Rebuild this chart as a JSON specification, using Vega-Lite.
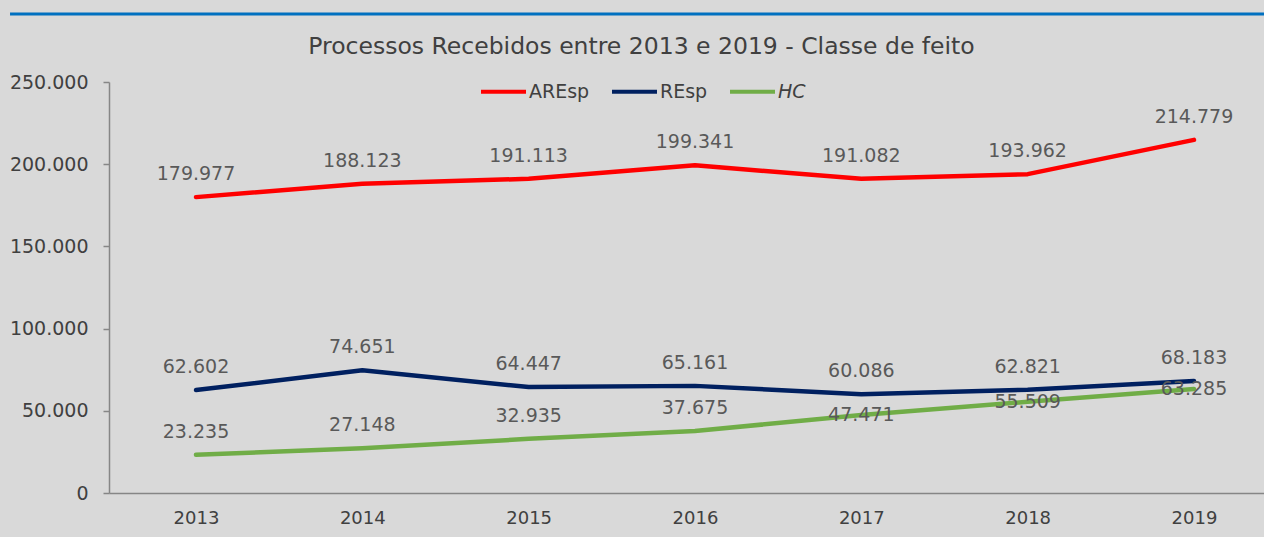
{
  "$schema": "https://vega.github.io/schema/vega-lite/v6.json",
  "width": 1155,
  "height": 411,
  "autosize": {"type": "none"},
  "padding": {"left": 109, "top": 82, "right": 0, "bottom": 44},
  "background": "#d9d9d9",
  "title": {
    "text": "Processos Recebidos entre 2013 e 2019 - Classe de feito",
    "dx": -45,
    "offset": -46,
    "fontSize": 23.5,
    "font": "DejaVu Sans",
    "fontWeight": "normal",
    "color": "#404040"
  },
  "datasets": {
    "serie": [
      {"ano": 2013, "classe": "AREsp", "valor": 179977},
      {"ano": 2014, "classe": "AREsp", "valor": 188123},
      {"ano": 2015, "classe": "AREsp", "valor": 191113},
      {"ano": 2016, "classe": "AREsp", "valor": 199341},
      {"ano": 2017, "classe": "AREsp", "valor": 191082},
      {"ano": 2018, "classe": "AREsp", "valor": 193962},
      {"ano": 2019, "classe": "AREsp", "valor": 214779},
      {"ano": 2013, "classe": "REsp", "valor": 62602},
      {"ano": 2014, "classe": "REsp", "valor": 74651},
      {"ano": 2015, "classe": "REsp", "valor": 64447},
      {"ano": 2016, "classe": "REsp", "valor": 65161},
      {"ano": 2017, "classe": "REsp", "valor": 60086},
      {"ano": 2018, "classe": "REsp", "valor": 62821},
      {"ano": 2019, "classe": "REsp", "valor": 68183},
      {"ano": 2013, "classe": "HC", "valor": 23235},
      {"ano": 2014, "classe": "HC", "valor": 27148},
      {"ano": 2015, "classe": "HC", "valor": 32935},
      {"ano": 2016, "classe": "HC", "valor": 37675},
      {"ano": 2017, "classe": "HC", "valor": 47471},
      {"ano": 2018, "classe": "HC", "valor": 55509},
      {"ano": 2019, "classe": "HC", "valor": 63285}
    ],
    "faixa": [{"y": 291363, "x": 2011.882, "x2": 2019.421}]
  },
  "layer": [
    {
      "data": {"name": "faixa"},
      "mark": {"type": "rule", "color": "#0070c0", "strokeWidth": 3, "clip": false},
      "encoding": {
        "y": {"field": "y", "type": "quantitative"},
        "x": {"field": "x", "type": "quantitative"},
        "x2": {"field": "x2"}
      }
    },
    {
      "data": {"name": "serie"},
      "mark": {"type": "line", "strokeWidth": 4.5, "strokeCap": "round", "strokeJoin": "round"},
      "encoding": {
        "x": {"field": "ano", "type": "quantitative"},
        "y": {"field": "valor", "type": "quantitative"},
        "color": {
          "field": "classe",
          "type": "nominal",
          "scale": {"domain": ["AREsp", "REsp", "HC"], "range": ["#ff0000", "#002060", "#70ad47"]},
          "legend": {
            "title": null,
            "orient": "none",
            "direction": "horizontal",
            "legendX": 370,
            "legendY": -15,
            "symbolType": "stroke",
            "symbolSize": 2025,
            "symbolStrokeWidth": 4,
            "labelFont": "DejaVu Sans",
            "labelFontSize": 19,
            "labelColor": "#404040",
            "labelOffset": 1,
            "columnPadding": 14,
            "encode": {
              "labels": {
                "update": {
                  "fontStyle": {"signal": "datum.value === 'HC' ? 'italic' : 'normal'"}
                }
              }
            }
          }
        }
      }
    },
    {
      "data": {"name": "serie"},
      "transform": [{"filter": "!(datum.classe === 'HC' && datum.ano >= 2017)"}],
      "mark": {"type": "text", "dy": -23, "baseline": "middle", "align": "center", "font": "DejaVu Sans", "fontSize": 19, "color": "#595959"},
      "encoding": {
        "x": {"field": "ano", "type": "quantitative"},
        "y": {"field": "valor", "type": "quantitative"},
        "text": {"field": "valor", "type": "quantitative", "format": ",.0f"}
      }
    },
    {
      "data": {"name": "serie"},
      "transform": [{"filter": "datum.classe === 'HC' && datum.ano >= 2017"}],
      "mark": {"type": "text", "dy": 0, "baseline": "middle", "align": "center", "font": "DejaVu Sans", "fontSize": 19, "color": "#595959"},
      "encoding": {
        "x": {"field": "ano", "type": "quantitative"},
        "y": {"field": "valor", "type": "quantitative"},
        "text": {"field": "valor", "type": "quantitative", "format": ",.0f"}
      }
    }
  ],
  "encoding": {
    "x": {
      "field": "ano",
      "type": "quantitative",
      "scale": {"domain": [2012.477, 2019.421], "zero": false, "nice": false},
      "axis": {
        "values": [2013, 2014, 2015, 2016, 2017, 2018, 2019],
        "format": "d",
        "ticks": false,
        "labelPadding": 16,
        "labelFont": "DejaVu Sans",
        "labelFontSize": 18,
        "labelColor": "#404040",
        "domainColor": "#868686",
        "domainWidth": 1.5
      }
    },
    "y": {
      "field": "valor",
      "type": "quantitative",
      "scale": {"domain": [0, 250000], "nice": false, "zero": true},
      "axis": {
        "values": [0, 50000, 100000, 150000, 200000, 250000],
        "format": ",.0f",
        "tickSize": 6,
        "tickColor": "#868686",
        "tickWidth": 1.5,
        "labelPadding": 15,
        "labelFont": "DejaVu Sans",
        "labelFontSize": 19,
        "labelColor": "#404040",
        "domainColor": "#868686",
        "domainWidth": 1.5
      }
    }
  },
  "config": {
    "locale": {
      "number": {"decimal": ",", "thousands": ".", "grouping": [3], "currency": ["R$", ""]}
    },
    "view": {"stroke": null},
    "axis": {"grid": false, "title": null}
  }
}
